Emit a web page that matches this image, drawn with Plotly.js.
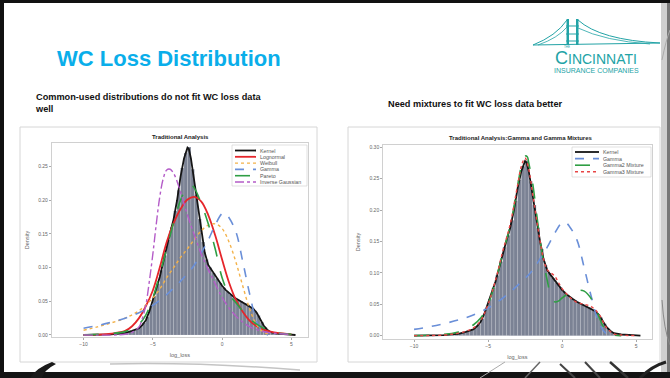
<!DOCTYPE html>
<html>
<head>
<meta charset="utf-8">
<script src="https://cdn.plot.ly/plotly-3.0.1.min.js"></script>
<style>
html,body{margin:0;padding:0;background:#fff;}
#chart{width:670px;height:378px;}
</style>
</head>
<body>
<div id="chart"></div>
<script>
// ---------- DATA ----------
// Histogram bins (centres) of log_loss, width 0.25
var histX = [-7.875,-7.625,-7.375,-7.125,-6.875,-6.625,-6.375,-6.125,-5.875,-5.625,-5.375,-5.125,
  -4.875,-4.625,-4.375,-4.125,-3.875,-3.625,-3.375,-3.125,-2.875,-2.625,-2.375,-2.125,-1.875,-1.625,
  -1.375,-1.125,-0.875,-0.625,-0.375,-0.125,0.125,0.375,0.625,0.875,1.125,1.375,1.625,1.875,2.125,
  2.375,2.625,2.875,3.125,3.375,3.625,3.875,4.125,4.375,4.625,4.875];
var histY = [0.001,0.001,0.002,0.003,0.004,0.005,0.007,0.009,0.013,0.018,0.027,0.043,
  0.058,0.076,0.096,0.118,0.141,0.160,0.184,0.215,0.248,0.270,0.279,0.246,0.208,0.172,
  0.138,0.112,0.100,0.092,0.084,0.077,0.070,0.064,0.060,0.056,0.052,0.050,0.047,0.045,0.041,
  0.036,0.029,0.019,0.011,0.006,0.003,0.002,0.001,0.001,0.001,0.0005];

var kernelX = [-10,-9,-8,-7.5,-7,-6.5,-6,-5.75,-5.5,-5.25,-5,-4.75,-4.5,-4.25,-4,-3.75,-3.5,-3.25,
  -3,-2.75,-2.5,-2.4,-2.25,-2,-1.75,-1.5,-1.25,-1,-0.75,-0.5,-0.25,0,0.25,0.5,0.75,1,1.25,1.5,
  1.75,2,2.25,2.5,2.75,3,3.25,3.5,4,4.5,5,5.3];
var kernelY = [0,0,0.001,0.002,0.003,0.006,0.010,0.015,0.022,0.035,0.052,0.068,0.086,0.108,0.132,
  0.152,0.172,0.200,0.235,0.262,0.278,0.276,0.262,0.225,0.190,0.152,0.122,0.104,0.096,0.088,0.080,
  0.073,0.067,0.062,0.058,0.054,0.051,0.049,0.046,0.043,0.039,0.033,0.024,0.014,0.008,0.004,0.002,
  0.001,0.0005,0];

var lognX = [-10,-9,-8,-7,-6.5,-6,-5.5,-5,-4.5,-4,-3.5,-3,-2.5,-2,-1.5,-1,-0.5,0,0.5,1,1.5,2,2.5,3,3.5,4,5];
var lognY = [0,0.0005,0.002,0.006,0.013,0.025,0.043,0.066,0.100,0.138,0.166,0.187,0.201,0.205,0.198,
  0.178,0.148,0.112,0.078,0.052,0.034,0.021,0.013,0.008,0.005,0.003,0.001];

var weibX = [-10,-9,-8,-7,-6,-5,-4.5,-4,-3.5,-3,-2.5,-2,-1.5,-1,-0.5,0,0.5,1,1.5,2,2.5,3,3.5];
var weibY = [0.007,0.012,0.018,0.025,0.036,0.055,0.068,0.085,0.100,0.115,0.128,0.142,0.155,0.163,
  0.165,0.158,0.138,0.108,0.072,0.038,0.015,0.004,0.001];

var gammaX = [-10,-9,-8,-7,-6,-5,-4,-3,-2,-1.5,-1,-0.5,0,0.25,0.5,1,1.5,2,2.5,3,3.3];
var gammaY = [0.010,0.014,0.019,0.025,0.033,0.044,0.060,0.080,0.104,0.122,0.141,0.163,0.180,0.180,
  0.174,0.153,0.108,0.060,0.020,0.003,0];

var paretoX = [-10,-8,-7,-6.5,-6,-5.5,-5,-4.5,-4,-3.5,-3,-2.5,-2.2,-2,-1.5,-1,-0.5,0,0.5,1,1.5,2,2.5,3,3.5,4,5];
var paretoY = [0,0.002,0.005,0.009,0.016,0.030,0.055,0.090,0.128,0.167,0.200,0.220,0.222,0.218,0.195,
  0.165,0.128,0.085,0.060,0.048,0.035,0.024,0.016,0.010,0.006,0.003,0.001];

var invgX = [-10,-7,-6.5,-6,-5.75,-5.5,-5.25,-5,-4.75,-4.5,-4.25,-4,-3.75,-3.5,-3.25,-3,-2.5,-2,-1.5,
  -1,-0.5,0,0.5,1,1.5,2,2.5,3,4,5];
var invgY = [0,0.001,0.004,0.012,0.025,0.045,0.080,0.120,0.165,0.205,0.232,0.245,0.246,0.240,0.228,
  0.212,0.178,0.148,0.120,0.097,0.076,0.056,0.040,0.028,0.019,0.012,0.008,0.005,0.002,0.001];

var gam2X = [-10,-8,-7,-6.5,-6,-5.5,-5,-4.5,-4,-3.5,-3,-2.75,-2.5,-2.35,-2.25,-2,-1.75,-1.5,-1.25,-1,
  -0.75,-0.5,-0.25,0,0.5,1,1.5,2,2.25,2.5,2.75,3,3.5,4];
var gam2Y = [0,0.002,0.006,0.010,0.017,0.028,0.050,0.086,0.132,0.175,0.238,0.270,0.286,0.285,0.275,
  0.245,0.200,0.155,0.118,0.088,0.063,0.054,0.055,0.060,0.068,0.072,0.071,0.058,0.045,0.030,0.016,
  0.007,0.001,0];

var gam3X = [-10,-8,-7,-6.5,-6,-5.5,-5,-4.5,-4,-3.5,-3,-2.75,-2.5,-2.25,-2,-1.75,-1.5,-1.25,-1,-0.75,
  -0.5,-0.25,0,0.5,1,1.5,2,2.5,3,3.5,4,5];
var gam3Y = [0,0.001,0.004,0.007,0.012,0.024,0.050,0.088,0.135,0.178,0.240,0.270,0.283,0.265,0.228,
  0.190,0.153,0.122,0.105,0.100,0.095,0.085,0.075,0.062,0.053,0.050,0.046,0.034,0.013,0.003,0.001,0];

var xTicks = [-10,-5,0,5];
var yTicksL = [0,0.05,0.10,0.15,0.20,0.25];
var yTicksR = [0,0.05,0.10,0.15,0.20,0.25,0.30];

// ---------- helpers for placing decorations in pixel terms ----------
var W = 670, H = 378;
function px(x){return x/W;}
function py(y){return 1-y/H;}
function pathPx(pts){
  return pts.map(function(p){
    var s=p[0];
    for(var i=1;i<p.length;i+=2){ s += ' '+px(p[i]).toFixed(5)+','+py(p[i+1]).toFixed(5); }
    return s;
  }).join(' ');
}

var chartFont = 'Liberation Sans, Arial, sans-serif';
var teal = '#22a3a6';

var sty = {
  kernel:{color:'#151515', width:1.8},
  logn:{color:'#e5262b', width:1.8, shape:'spline'},
  weib:{color:'#f3b24a', width:1.4, dash:'dot', shape:'spline'},
  gamma:{color:'#6a8fd8', width:1.6, dash:'dash', shape:'spline'},
  pareto:{color:'#2f9e44', width:1.6, dash:'longdash', shape:'spline'},
  invg:{color:'#b45cc8', width:1.4, dash:'dashdot', shape:'spline'},
  gam2:{color:'#2f9e44', width:1.6, dash:'longdash', shape:'spline'},
  gam3:{color:'#e84545', width:1.4, dash:'dot', shape:'spline'}
};

var leftSeries = [
  {name:'Kernel', x:kernelX, y:kernelY, line:sty.kernel},
  {name:'Lognormal', x:lognX, y:lognY, line:sty.logn},
  {name:'Weibull', x:weibX, y:weibY, line:sty.weib},
  {name:'Gamma', x:gammaX, y:gammaY, line:sty.gamma},
  {name:'Pareto', x:paretoX, y:paretoY, line:sty.pareto},
  {name:'Inverse Gaussian', x:invgX, y:invgY, line:sty.invg}
];
var rightSeries = [
  {name:'Kernel', x:kernelX, y:kernelY, line:sty.kernel},
  {name:'Gamma', x:gammaX, y:gammaY, line:sty.gamma},
  {name:'Gamma2 Mixture', x:gam2X, y:gam2Y, line:sty.gam2},
  {name:'Gamma3 Mixture', x:gam3X, y:gam3Y, line:sty.gam3}
];

var barStyle = {color:'#7b8294', line:{color:'rgba(255,255,255,0.35)', width:0.4}};

var traces = [
  {type:'bar', x:histX, y:histY, width:0.25, marker:barStyle, xaxis:'x', yaxis:'y', showlegend:false, hoverinfo:'skip'}
];
leftSeries.forEach(function(s){
  traces.push({type:'scatter', mode:'lines', name:s.name, x:s.x, y:s.y, line:s.line, xaxis:'x', yaxis:'y', showlegend:false});
});
traces.push({type:'bar', x:histX, y:histY, width:0.25, marker:barStyle, xaxis:'x2', yaxis:'y2', showlegend:false, hoverinfo:'skip'});
rightSeries.forEach(function(s){
  traces.push({type:'scatter', mode:'lines', name:s.name, x:s.x, y:s.y, line:s.line, xaxis:'x2', yaxis:'y2', showlegend:false});
});

function xax(domain, range, anchor){
  return {domain:domain, range:range, anchor:anchor, tickvals:xTicks, ticks:'outside', ticklen:2, tickcolor:'#aaa',
    tickfont:{size:5, color:'#666', family:chartFont}, showline:true, mirror:true, linecolor:'#c4c4c4', linewidth:0.8,
    showgrid:false, zeroline:false, fixedrange:true,
    title:{text:'log_loss', font:{size:5.5, color:'#666', family:chartFont}, standoff:7}};
}
function yax(domain, range, ticks, anchor){
  return {domain:domain, range:range, tickvals:ticks, tickformat:'.2f', ticks:'outside', ticklen:2, tickcolor:'#aaa',
    tickfont:{size:5, color:'#666', family:chartFont}, showline:true, mirror:true, linecolor:'#c4c4c4', linewidth:0.8,
    showgrid:false, zeroline:false, fixedrange:true, anchor:anchor,
    title:{text:'Density', font:{size:5.5, color:'#666', family:chartFont}, standoff:8}};
}

var xa1 = xax([px(51.7), px(308)], [-12.3, 6.2], 'y');
var ya1 = yax([py(337), py(143)], [-0.003, 0.285], yTicksL, 'x');
var xa2 = xax([px(383), px(651.7)], [-12.1, 6.06], 'y2');
var ya2 = yax([py(339), py(145)], [-0.0053, 0.3037], yTicksR, 'x2');

var shapes = [
  // chart panels
  {type:'rect', xref:'paper', yref:'paper', x0:px(20), x1:px(317), y0:py(362), y1:py(127), fillcolor:'#ffffff', line:{color:'#d6d6d6', width:1}, layer:'below'},
  {type:'rect', xref:'paper', yref:'paper', x0:px(348), x1:px(660), y0:py(362), y1:py(127), fillcolor:'#ffffff', line:{color:'#d6d6d6', width:1}, layer:'below'},
  // slide frame
  {type:'rect', xref:'paper', yref:'paper', x0:0, x1:1, y0:py(3), y1:1, fillcolor:'#111', line:{width:0}},
  {type:'rect', xref:'paper', yref:'paper', x0:0, x1:px(4), y0:0, y1:1, fillcolor:'#111', line:{width:0}},
  {type:'rect', xref:'paper', yref:'paper', x0:px(661), x1:1, y0:0, y1:py(3), fillcolor:'#cfcfcf', line:{width:0}, layer:'below'},
  {type:'rect', xref:'paper', yref:'paper', x0:px(667), x1:1, y0:0, y1:py(3), fillcolor:'#777', line:{width:0}},
  {type:'rect', xref:'paper', yref:'paper', x0:0, x1:1, y0:0, y1:py(372), fillcolor:'#141414', line:{width:0}},
  // bottom swirl decoration
  {type:'path', xref:'paper', yref:'paper', path:pathPx([['M',30,378],['Q',36,368,52,362],['L',56,364],['Q',44,370,42,378],['Z']]), fillcolor:'#1a1a1a', line:{width:0}},
  {type:'path', xref:'paper', yref:'paper', path:pathPx([['M',110,364],['Q',200,362,300,370]]), line:{color:'#c4c4c4', width:1.5}},
  {type:'path', xref:'paper', yref:'paper', path:pathPx([['M',480,378],['L',505,362]]), line:{color:'#aaa', width:1}},
  {type:'path', xref:'paper', yref:'paper', path:pathPx([['M',525,378],['L',540,362]]), line:{color:'#666', width:1.5}},
  {type:'path', xref:'paper', yref:'paper', path:pathPx([['M',560,364],['L',575,378]]), line:{color:'#444', width:2}},
  {type:'path', xref:'paper', yref:'paper', path:pathPx([['M',585,362],['L',600,378]]), line:{color:'#444', width:2}},
  {type:'path', xref:'paper', yref:'paper', path:pathPx([['M',610,362],['L',628,378]]), line:{color:'#333', width:2.5}},
  {type:'path', xref:'paper', yref:'paper', path:pathPx([['M',640,378],['Q',652,366,666,362]]), line:{color:'#222', width:3}},
  {type:'path', xref:'paper', yref:'paper', path:pathPx([['M',662,300],['Q',664,330,670,345]]), line:{color:'#888', width:1}},
  {type:'path', xref:'paper', yref:'paper', path:pathPx([['M',662,60],['Q',666,40,670,30]]), line:{color:'#aaa', width:1}},
  // logo: bridge
  {type:'rect', xref:'paper', yref:'paper', x0:px(566.5), x1:px(569), y0:py(45), y1:py(19), fillcolor:teal, line:{width:0}},
  {type:'rect', xref:'paper', yref:'paper', x0:px(576), x1:px(578.5), y0:py(45), y1:py(19), fillcolor:teal, line:{width:0}},
  {type:'path', xref:'paper', yref:'paper', path:pathPx([['M',566,26],['L',579,26],['M',566,34],['L',579,34],['M',566,41],['L',579,41]]), line:{color:teal, width:1}},
  {type:'path', xref:'paper', yref:'paper', path:pathPx([['M',533,45],['Q',556,36,567,20]]), line:{color:teal, width:1}},
  {type:'path', xref:'paper', yref:'paper', path:pathPx([['M',538,45],['Q',558,38,567,27]]), line:{color:teal, width:0.8}},
  {type:'path', xref:'paper', yref:'paper', path:pathPx([['M',578,20],['Q',600,40,660,43]]), line:{color:teal, width:1}},
  {type:'path', xref:'paper', yref:'paper', path:pathPx([['M',578,28],['Q',605,41,650,44]]), line:{color:teal, width:0.8}},
  {type:'path', xref:'paper', yref:'paper', path:pathPx([['M',533,45],['L',660,43]]), line:{color:teal, width:1}}
];

var annotations = [
  {xref:'paper', yref:'paper', x:px(55), y:py(59), xanchor:'left', yanchor:'middle', showarrow:false,
   text:'<b>WC Loss Distribution</b>', font:{family:chartFont, size:22, color:'#0aaeea'}},
  {xref:'paper', yref:'paper', x:px(33), y:py(103), xanchor:'left', yanchor:'middle', showarrow:false, align:'left',
   text:'<b>Common-used distributions do not fit WC loss data<br>well</b>', font:{family:chartFont, size:9.2, color:'#111'}},
  {xref:'paper', yref:'paper', x:px(386), y:py(104), xanchor:'left', yanchor:'middle', showarrow:false,
   text:'<b>Need mixtures to fit WC loss data better</b>', font:{family:chartFont, size:9.2, color:'#111'}},
  {xref:'paper', yref:'paper', x:px(180), y:py(136.5), xanchor:'center', yanchor:'middle', showarrow:false,
   text:'<b>Traditional Analysis</b>', font:{family:chartFont, size:6, color:'#222'}},
  {xref:'paper', yref:'paper', x:px(520), y:py(137.5), xanchor:'center', yanchor:'middle', showarrow:false,
   text:'<b>Traditional Analysis:Gamma and Gamma Mixtures</b>', font:{family:chartFont, size:6, color:'#222'}},
  // logo text
  {xref:'paper', yref:'paper', x:px(596), y:py(58), xanchor:'center', yanchor:'middle', showarrow:false,
   text:'C<span style="font-size:14px">INCINNATI</span>', font:{family:chartFont, size:18, color:teal}},
  {xref:'paper', yref:'paper', x:px(596), y:py(70.5), xanchor:'center', yanchor:'middle', showarrow:false,
   text:'INSURANCE COMPANIES', font:{family:chartFont, size:7, color:teal}},
  {xref:'paper', yref:'paper', x:px(566.5), y:py(47), xanchor:'center', yanchor:'middle', showarrow:false,
   text:'THE', font:{family:chartFont, size:3, color:teal}}
];

// manual compact legends (built from the series lists)
function addLegend(series, box, lineX0, lineX1, textX, row0, rowStep){
  shapes.push({type:'rect', xref:'paper', yref:'paper', x0:px(box[0]), x1:px(box[1]), y0:py(box[3]), y1:py(box[2]),
    fillcolor:'#ffffff', line:{color:'#cfcfcf', width:0.6}});
  series.forEach(function(s, i){
    var yy = row0 + i*rowStep;
    shapes.push({type:'line', xref:'paper', yref:'paper', x0:px(lineX0), x1:px(lineX1), y0:py(yy), y1:py(yy),
      line:{color:s.line.color, width:s.line.width, dash:s.line.dash || 'solid'}});
    annotations.push({xref:'paper', yref:'paper', x:px(textX), y:py(yy), xanchor:'left', yanchor:'middle', showarrow:false,
      text:s.name, font:{family:chartFont, size:5.3, color:'#555'}});
  });
}
addLegend(leftSeries, [232, 307, 145, 186], 235, 256, 258, 150.5, 6.3);
addLegend(rightSeries, [572, 651, 147, 177], 575, 599, 601, 152, 6.6);

var layout = {
  width:W, height:H, margin:{l:0,r:0,t:0,b:0}, paper_bgcolor:'#ffffff', plot_bgcolor:'#ffffff',
  bargap:0, showlegend:false, font:{family:chartFont},
  xaxis:xa1, yaxis:ya1, xaxis2:xa2, yaxis2:ya2,
  shapes:shapes, annotations:annotations
};

Plotly.newPlot('chart', traces, layout, {displayModeBar:false, staticPlot:true});
</script>
</body>
</html>
